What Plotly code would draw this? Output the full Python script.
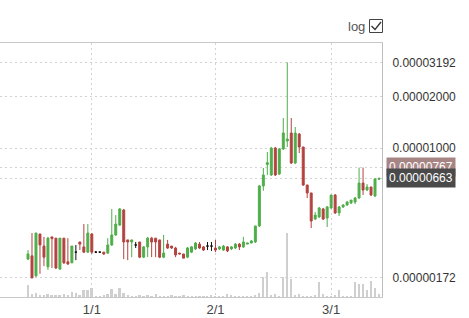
import pandas as pd
import plotly.graph_objects as go
import math

# prices in satoshi (1e-8)
dates = pd.date_range("2019-12-16", periods=89, freq="D")
open_s = [222,232,177,312,265,200,300,295,194,295,214,211,244,280,262,244,312,244,244,244,
          241,269,308,352,432,288,280,269,280,228,262,295,295,288,228,272,265,258,241,238,
          228,244,255,272,262,265,265,258,255,251,262,255,258,272,262,272,276,280,348,598,
          800,694,1000,703,987,1099,1225,816,1209,1014,606,544,382,393,438,387,444,529,415,450,
          462,475,481,508,622,566,590,522,655]
high_s = [251,316,316,312,300,300,300,295,295,295,295,265,269,280,357,357,316,248,246,244,
          295,438,403,444,438,288,288,280,280,265,300,300,295,288,308,288,265,262,241,238,
          262,265,280,280,265,280,280,288,265,269,265,265,276,276,300,276,288,348,606,763,
          947,1014,1014,1000,1501,3192,1501,1329,1225,1014,606,544,420,450,444,456,529,536,456,468,
          488,494,515,767,767,614,590,666,667]
low_s = [219,172,174,182,202,192,197,194,192,208,205,211,219,251,241,241,238,241,242,235,
         238,265,304,348,222,219,228,258,225,225,228,228,228,225,225,255,255,228,238,225,
         225,241,251,255,248,251,248,244,251,248,244,251,255,251,258,272,276,276,343,560,
         694,684,684,694,973,1014,805,805,934,598,508,338,377,387,377,343,438,409,398,444,
         456,468,468,501,529,558,522,515,650]
close_s = [238,172,316,269,228,295,293,197,295,211,208,265,244,272,244,316,244,244,244,238,
           269,308,357,438,280,280,288,269,228,262,295,280,280,228,241,258,258,235,238,225,
           258,262,276,258,251,265,265,251,262,265,248,262,272,262,280,276,284,348,598,694,
           820,1000,694,987,1225,1129,816,1225,1014,606,544,372,403,444,382,450,529,415,450,462,
           481,494,508,622,566,590,529,657,663]
volume = [12,3,4,2,2,3,2,2,2,3,2,5,4,2,7,7,9,1,1,2,
          3,8,3,9,4,2,1,1,2,1,2,1,3,1,1,1,2,1,1,2,
          1,1,1,1,1,1,2,1,1,1,3,2,1,1,1,1,1,2,4,20,
          25,2,3,1,20,64,18,2,3,1,1,1,2,15,3,1,1,2,7,1,
          1,1,15,13,13,7,16,9,3]

tick_sats = [3192, 2000, 1000, 172]
tick_text = ["0.00003192", "0.00002000", "0.00001000", "0.00000172"]
mark_sats = [767, 663]
mark_text = ["0.00000767", "0.00000663"]
x_ticks = ["2020-01-01", "2020-02-01", "2020-03-01"]
x_text = ["1/1", "2/1", "3/1"]

S = 1e-8
o = [v * S for v in open_s]
h = [v * S for v in high_s]
l = [v * S for v in low_s]
c = [v * S for v in close_s]

GREEN = "#4fae4a"
RED = "#b3433f"

doji = [i for i in range(len(o)) if open_s[i] == close_s[i]]
norm = [i for i in range(len(o)) if open_s[i] != close_s[i]]

fig = go.Figure()
fig.add_trace(go.Bar(x=dates, y=volume, yaxis="y2", marker=dict(color="#cfcfcf", line_width=0),
                     width=0.5 * 86400000, hoverinfo="skip"))
fig.add_trace(go.Candlestick(
    x=[dates[i] for i in norm], open=[o[i] for i in norm], high=[h[i] for i in norm],
    low=[l[i] for i in norm], close=[c[i] for i in norm],
    increasing=dict(line=dict(color=GREEN, width=1), fillcolor=GREEN),
    decreasing=dict(line=dict(color=RED, width=1), fillcolor=RED),
    whiskerwidth=0))
fig.add_trace(go.Candlestick(
    x=[dates[i] for i in doji], open=[o[i] for i in doji], high=[h[i] for i in doji],
    low=[l[i] for i in doji], close=[c[i] for i in doji],
    increasing=dict(line=dict(color="#111111", width=1), fillcolor="#111111"),
    decreasing=dict(line=dict(color="#111111", width=1), fillcolor="#111111"),
    whiskerwidth=0))

ymin = -5 - 149 / 170
ymax = -5 + 105 / 170

FONT = "Liberation Sans, Arial, sans-serif"
GRID = "#d2d2d2"
fig.update_layout(
    width=469, height=318,
    margin=dict(l=0, r=87, t=43, b=21),
    paper_bgcolor="white", plot_bgcolor="white",
    showlegend=False, bargap=0,
    font=dict(family=FONT, size=12, color="#333333"),
    xaxis=dict(type="date", range=["2019-12-08 23:30", "2020-03-13 18:00"],
               rangeslider=dict(visible=False),
               tickvals=x_ticks, ticktext=x_text, tickfont=dict(size=13, color="#444444"),
               showgrid=True, gridcolor=GRID, griddash="2px,3px", gridwidth=1,
               showline=True, linecolor="#c8c8c8", linewidth=1, mirror=True,
               ticks="", zeroline=False),
    yaxis=dict(type="log", side="right", range=[ymin, ymax],
               tickvals=[v * S for v in tick_sats] + [v * S for v in mark_sats],
               ticktext=tick_text + ["", ""],
               tickfont=dict(size=12, color="#333333"),
               showgrid=True, gridcolor=GRID, griddash="2px,3px", gridwidth=1,
               showline=True, linecolor="#bdbdbd", linewidth=1,
               ticks="outside", ticklen=7, tickcolor="rgba(0,0,0,0)", zeroline=False),
    yaxis2=dict(overlaying="y", range=[0, 254], visible=False, fixedrange=True),
)

bgs = ["#a88585", "#4a4a4a"]
shifts = [1, 0]
for v, t, bg, sh in zip(mark_sats, mark_text, bgs, shifts):
    fig.add_annotation(xref="paper", yref="y", x=386 / 382, y=math.log10(v * S), yshift=sh,
                       text=t, showarrow=False, xanchor="left", yanchor="middle",
                       bgcolor=bg, borderpad=2, font=dict(size=12, color="white", family=FONT))

fig.add_annotation(xref="paper", yref="paper", x=367 / 382, y=(297 - 27) / 254, text="log",
                   showarrow=False, xanchor="right", yanchor="middle",
                   font=dict(size=13, color="#555555", family=FONT))
fig.add_shape(type="rect", xref="paper", yref="paper",
              x0=369.5 / 382, x1=382.5 / 382, y0=(297 - 32.5) / 254, y1=(297 - 19.5) / 254,
              line=dict(color="#444444", width=1), fillcolor="white")
fig.add_shape(type="path", xref="paper", yref="paper",
              path="M {:.4f},{:.4f} L {:.4f},{:.4f} L {:.4f},{:.4f}".format(
                  371.5 / 382, (297 - 26) / 254, 375 / 382, (297 - 29.5) / 254,
                  381 / 382, (297 - 22) / 254),
              line=dict(color="#333333", width=1.3))

fig.write_html("out.html")
